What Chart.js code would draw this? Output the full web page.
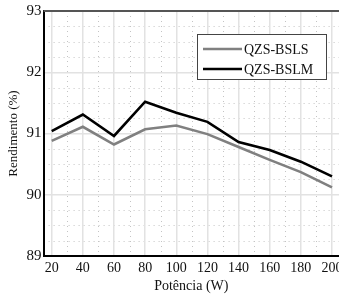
<!DOCTYPE html>
<html>
<head>
<meta charset="utf-8">
<script src="https://cdn.jsdelivr.net/npm/chart.js@4.4.0/dist/chart.umd.min.js"></script>
<style>
  html, body { margin: 0; padding: 0; background: #fff; }
  #wrap { width: 339px; height: 295px; }
</style>
</head>
<body>
<div id="wrap"><canvas id="c" width="339" height="295"></canvas></div>
<script>
const potencia = [20, 40, 60, 80, 100, 120, 140, 160, 180, 200];
const bsls = [90.88, 91.11, 90.82, 91.07, 91.13, 90.99, 90.78, 90.57, 90.37, 90.12];
const bslm = [91.04, 91.31, 90.96, 91.52, 91.34, 91.19, 90.86, 90.73, 90.54, 90.30];
const xTicks = [20, 40, 60, 80, 100, 120, 140, 160, 180, 200];
const yTicks = [89, 90, 91, 92, 93];

const FONT = '"Liberation Serif", "Times New Roman", serif';

const minorGrid = {
  id: 'minorGrid',
  beforeDraw(chart) {
    const { ctx, chartArea: a, scales: { x, y } } = chart;
    ctx.save();
    ctx.strokeStyle = '#c4c4c4';
    ctx.lineWidth = 1;
    ctx.setLineDash([1, 4]);
    for (let v = 10; v <= 210; v += 20) {
      const px = Math.round(x.getPixelForValue(v)) + 0.5;
      if (px < a.left || px > a.right) continue;
      ctx.beginPath(); ctx.moveTo(px, a.top); ctx.lineTo(px, a.bottom); ctx.stroke();
    }
    for (let v = 89; v < 93; v += 0.25) {
      if (Number.isInteger(v)) continue;
      const py = Math.round(y.getPixelForValue(v)) + 0.5;
      ctx.beginPath(); ctx.moveTo(a.left, py); ctx.lineTo(a.right, py); ctx.stroke();
    }
    ctx.restore();
  },
  afterDraw(chart) {
    const { ctx, chartArea: a } = chart;
    ctx.save();
    ctx.strokeStyle = '#555';
    ctx.lineWidth = 2;
    ctx.beginPath(); ctx.moveTo(a.left, a.top); ctx.lineTo(a.right, a.top); ctx.stroke();
    ctx.restore();
  }
};

const boxLegend = {
  id: 'boxLegend',
  afterDraw(chart) {
    const ctx = chart.ctx;
    const bx = 197, by = 34, bw = 129, bh = 45;
    ctx.save();
    ctx.fillStyle = '#fff';
    ctx.fillRect(bx, by, bw, bh);
    ctx.strokeStyle = '#444';
    ctx.lineWidth = 1;
    ctx.strokeRect(bx + 0.5, by + 0.5, bw, bh);
    ctx.font = '14px ' + FONT;
    ctx.textBaseline = 'middle';
    chart.data.datasets.forEach((ds, i) => {
      const yy = by + 15 + i * 20;
      ctx.strokeStyle = ds.borderColor;
      ctx.lineWidth = ds.borderWidth;
      ctx.beginPath(); ctx.moveTo(bx + 6, yy); ctx.lineTo(bx + 45, yy); ctx.stroke();
      ctx.fillStyle = '#111';
      ctx.fillText(ds.label, bx + 47, yy + 1);
    });
    ctx.restore();
  }
};

new Chart(document.getElementById('c'), {
  type: 'line',
  data: {
    labels: potencia,
    datasets: [
      { label: 'QZS-BSLS', data: potencia.map((p, i) => ({ x: p, y: bsls[i] })),
        borderColor: '#808080', borderWidth: 2.6, pointRadius: 0, tension: 0, fill: false },
      { label: 'QZS-BSLM', data: potencia.map((p, i) => ({ x: p, y: bslm[i] })),
        borderColor: '#000', borderWidth: 2.6, pointRadius: 0, tension: 0, fill: false }
    ]
  },
  options: {
    responsive: false,
    animation: false,
    layout: { padding: { top: 5, right: 0, bottom: 0, left: 6 } },
    plugins: { legend: { display: false }, tooltip: { enabled: false } },
    scales: {
      x: {
        type: 'linear', min: 14.8, max: 204.5,
        afterBuildTicks: s => { s.ticks = xTicks.map(v => ({ value: v })); },
        afterFit: s => { s.paddingRight = 0; s.height = 39; },
        grid: { color: '#e2e2e2', lineWidth: 1.5, drawTicks: false },
        border: { color: '#000', width: 2 },
        ticks: { color: '#111', font: { family: FONT, size: 14 }, padding: 4, maxRotation: 0, autoSkip: false },
        title: { display: true, text: 'Potência (W)', color: '#111', font: { family: FONT, size: 14 }, padding: { top: 0, bottom: 0 } }
      },
      y: {
        min: 89, max: 93,
        afterBuildTicks: s => { s.ticks = yTicks.map(v => ({ value: v })); },
        grid: { color: '#e2e2e2', lineWidth: 1.5, drawTicks: false },
        border: { color: '#000', width: 2 },
        ticks: { color: '#111', font: { family: FONT, size: 15 }, padding: 2 },
        title: { display: true, text: 'Rendimento (%)', color: '#111', font: { family: FONT, size: 13 }, padding: { top: 0, bottom: 3 } }
      }
    }
  },
  plugins: [minorGrid, boxLegend]
});
</script>
</body>
</html>
